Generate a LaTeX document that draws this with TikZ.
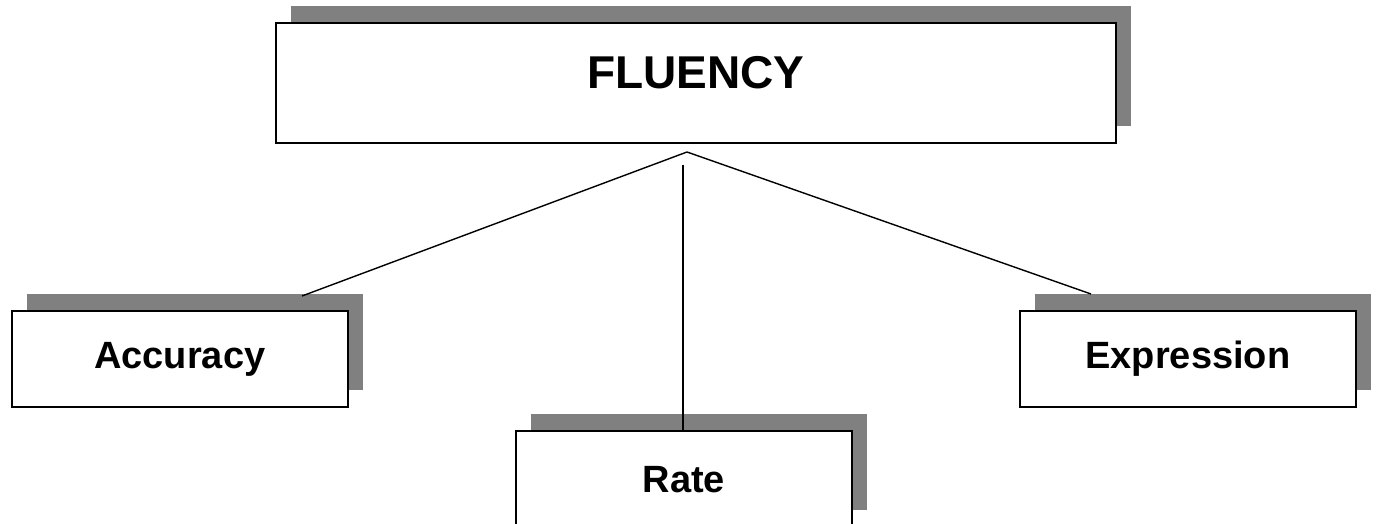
\documentclass[tikz,border=0pt]{standalone}
\usepackage{fontspec}
\setmainfont{Liberation Sans}
\begin{document}
\begin{tikzpicture}[x=1pt,y=-1pt,
  shadowbox/.style={fill=shadowgray, draw=none, inner sep=0pt, anchor=north west},
  frontbox/.style={fill=white, draw=black, line width=1.7pt, inner sep=0pt, anchor=north west, font=\bfseries\fontsize{38}{40}\selectfont, text depth=0pt},
  wire/.style={draw=black, line width=1.4pt}]
\definecolor{shadowgray}{HTML}{808080}
\useasboundingbox (0,0) rectangle (1377,524);
% shadows
\node[shadowbox, minimum width=840pt, minimum height=120pt] (fluS) at (291,6) {};
\node[shadowbox, minimum width=336pt, minimum height=96pt] (accS) at (27,294) {};
\node[shadowbox, minimum width=336pt, minimum height=96pt] (expS) at (1035,294) {};
\node[shadowbox, minimum width=336pt, minimum height=96pt] (rateS) at (531,414) {};
% front boxes
\node[frontbox, minimum width=840pt, minimum height=120pt, text height=12pt, font=\bfseries\fontsize{46}{50}\selectfont] (flu) at (275,22) {FLUENCY};
\node[frontbox, minimum width=336pt, minimum height=96pt, text height=20pt] (acc) at (11,310) {Accuracy};
\node[frontbox, minimum width=336pt, minimum height=96pt, text height=20pt] (exp) at (1019,310) {Expression};
\node[frontbox, minimum width=336pt, minimum height=96pt, text height=28pt] (rate) at (515,430) {Rate};
% connectors
\coordinate (apex) at (687,152);
\coordinate (rtop) at (683,165);
\coordinate (accEnd) at (302,296);
\coordinate (expEnd) at (1091,294);
\draw[wire] (accEnd) -- (apex) -- (expEnd);
\draw[wire] (rtop) -- (rtop |- rate.north);
\end{tikzpicture}
\end{document}
